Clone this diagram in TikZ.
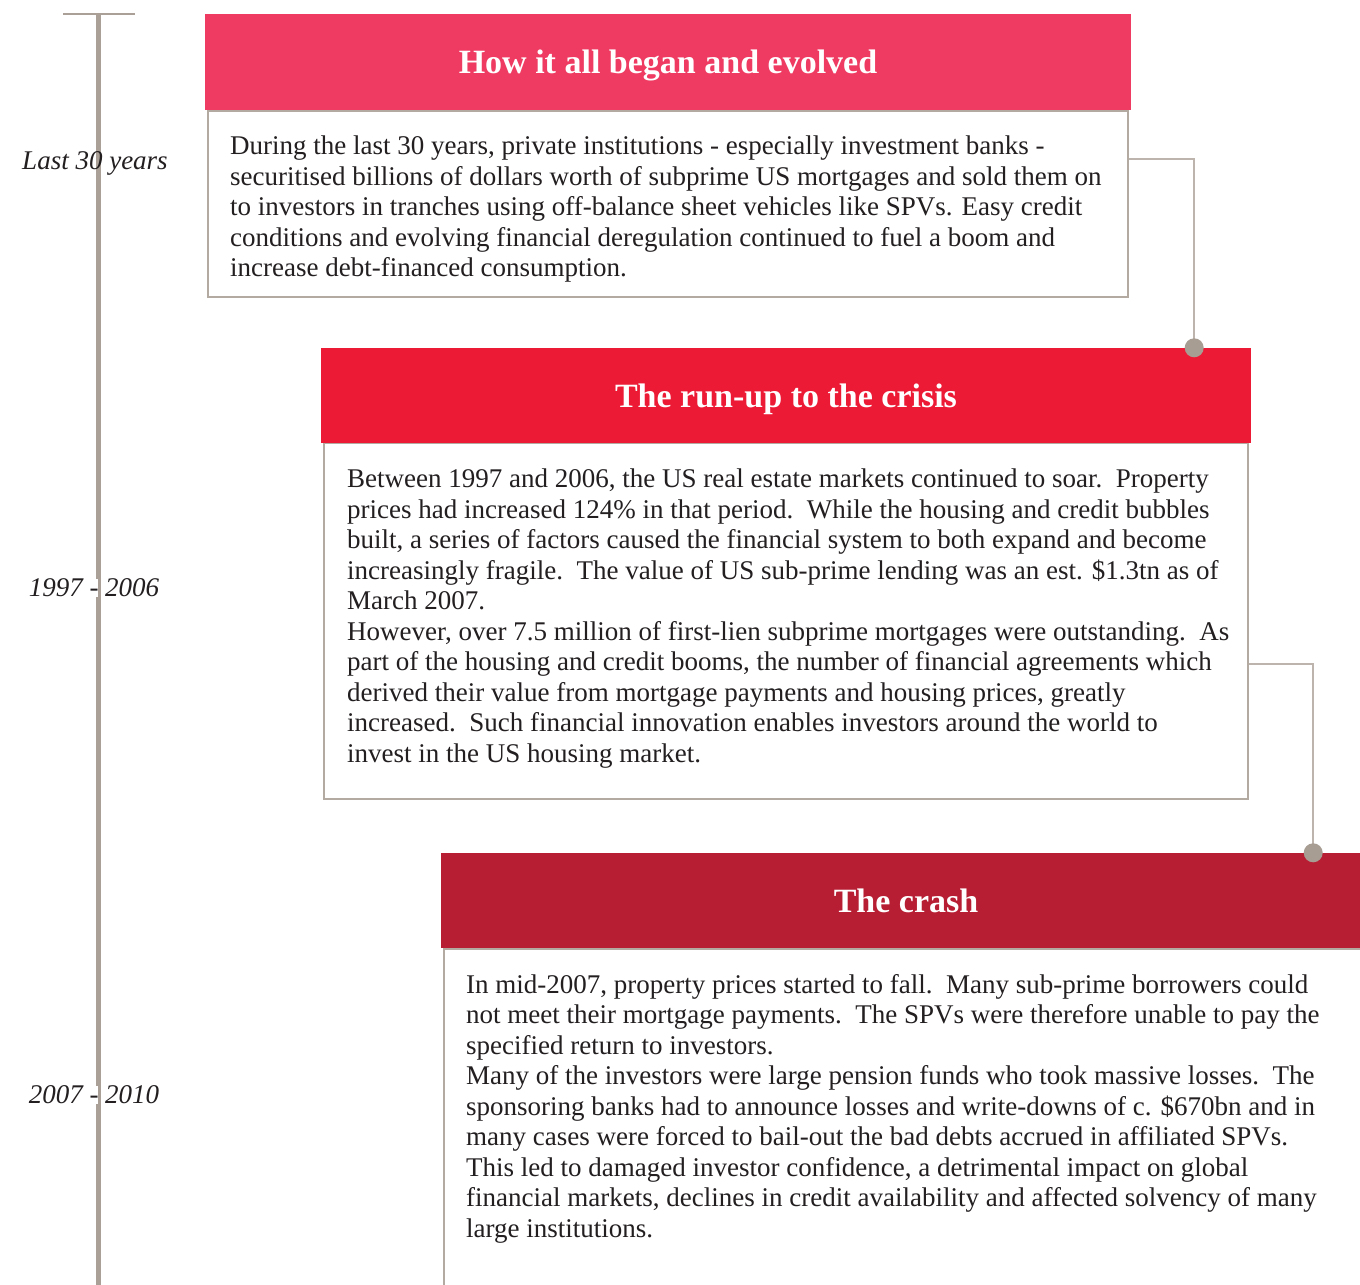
\documentclass[tikz,border=0pt]{standalone}
\usepackage{fontspec}
\setmainfont{Liberation Serif}
\usetikzlibrary{positioning,calc}
\definecolor{pinkHead}{HTML}{EF3B62}
\definecolor{redHead}{HTML}{ED1A36}
\definecolor{wineHead}{HTML}{B71E33}
\definecolor{axisGrey}{HTML}{ABA097}
\definecolor{boxGrey}{HTML}{B3AAA2}
\definecolor{linkGrey}{HTML}{BDB4AD}
\definecolor{knobGrey}{HTML}{A89D93}
\definecolor{textDark}{HTML}{231F20}
\newcommand{\gapdash}{{\setlength{\fboxsep}{0pt}\colorbox{white}{\vphantom{1}-}}}

\begin{document}
\begin{tikzpicture}[
    x=1pt,y=-1pt,
    head/.style={rectangle,inner sep=0pt,text=white,text depth=0pt,
                 font=\fontsize{34}{40}\selectfont\bfseries},
    body/.style={rectangle,draw=boxGrey,line width=2pt,fill=white,inner sep=0pt},
    bodytext/.style={anchor=north west,inner sep=0pt,align=left,text=textDark,
                     font=\fontsize{27}{30.5}\selectfont},
    era/.style={inner sep=0pt,text=textDark,text depth=0pt,
                font=\fontsize{27}{30}\selectfont\itshape},
    link/.style={draw=linkGrey,line width=2pt},
    knob/.style={circle,fill=knobGrey,inner sep=0pt,minimum size=19pt},
]
\clip (0,0) rectangle (1360,1285);
\fill[white] (0,0) rectangle (1360,1285);

% ---------------------------------------------------------------
%  time axis
% ---------------------------------------------------------------
\coordinate (axtop) at (98,14);
\coordinate (axend) at (98,1290);
\draw[axisGrey,line width=5pt] (axtop) -- (axend);
\draw[axisGrey,line width=2pt] ($(axtop)+(-35,0)$) -- ($(axtop)+(37,0)$);

\node[era] (era1) at (95,161)  {Last 30 years};
\node[era] (era2) at (94,588)  {1997 \gapdash{} 2006};
\node[era] (era3) at (94,1095) {2007 \gapdash{} 2010};

% ---------------------------------------------------------------
%  stage 1
% ---------------------------------------------------------------
\node[body,minimum width=920pt,minimum height=186pt] (body1) at (668,204) {};
\node[head,fill=pinkHead,minimum width=926pt,minimum height=96pt]
     (head1) at (668,62) {How it all began and evolved};
\node[bodytext] (text1) at ($(body1.north west)+(23,26)$)
 {During the last 30 years, private institutions - especially investment banks -\\
  securitised billions of dollars worth of subprime US mortgages and sold them on\\
  to investors in tranches using off-balance sheet vehicles like SPVs. Easy credit\\
  conditions and evolving financial deregulation continued to fuel a boom and\\
  increase debt-financed consumption.};

% ---------------------------------------------------------------
%  stage 2
% ---------------------------------------------------------------
\node[body,minimum width=924pt,minimum height=356pt] (body2) at (786,621) {};
\node[head,fill=redHead,minimum width=930pt,minimum height=95pt]
     (head2) at (786,395.5) {The run-up to the crisis};
\node[bodytext] (text2) at ($(body2.north west)+(24,27)$)
 {Between 1997 and 2006, the US real estate markets continued to soar.\ \ Property\\
  prices had increased 124\% in that period.\ \ While the housing and credit bubbles\\
  built, a series of factors caused the financial system to both expand and become\\
  increasingly fragile.\ \ The value of US sub-prime lending was an est. \$1.3tn as of\\
  March 2007.\\
  However, over 7.5 million of first-lien subprime mortgages were outstanding.\ \ As\\
  part of the housing and credit booms, the number of financial agreements which\\
  derived their value from mortgage payments and housing prices, greatly\\
  increased.\ \ Such financial innovation enables investors around the world to\\
  invest in the US housing market.};

% ---------------------------------------------------------------
%  stage 3 (runs off the page)
% ---------------------------------------------------------------
\node[body,minimum width=924pt,minimum height=460pt] (body3) at (906,1179) {};
\node[head,fill=wineHead,minimum width=930pt,minimum height=95pt]
     (head3) at (906,900.5) {The crash};
\node[bodytext] (text3) at ($(body3.north west)+(23,26)$)
 {In mid-2007, property prices started to fall.\ \ Many sub-prime borrowers could\\
  not meet their mortgage payments.\ \ The SPVs were therefore unable to pay the\\
  specified return to investors.\\
  Many of the investors were large pension funds who took massive losses.\ \ The\\
  sponsoring banks had to announce losses and write-downs of c. \$670bn and in\\
  many cases were forced to bail-out the bad debts accrued in affiliated SPVs.\\
  This led to damaged investor confidence, a detrimental impact on global\\
  financial markets, declines in credit availability and affected solvency of many\\
  large institutions.};

% ---------------------------------------------------------------
%  links between the stages
% ---------------------------------------------------------------
\coordinate (out1) at ($(body1.north east)+(0,49)$);
\coordinate (in2)  at ($(head2.north east)+(-57,0)$);
\draw[link] (out1) -| (in2);
\node[knob] (knob1) at (in2) {};

\coordinate (out2) at ($(body2.north east)+(0,222)$);
\coordinate (in3)  at ($(head3.north east)+(-58,0)$);
\draw[link] (out2) -| (in3);
\node[knob] (knob2) at (in3) {};

\end{tikzpicture}
\end{document}
